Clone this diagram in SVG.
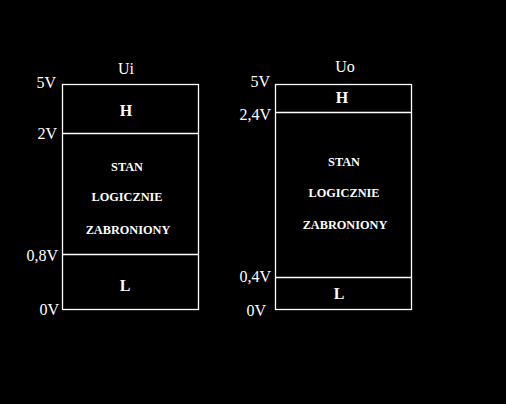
<svg xmlns="http://www.w3.org/2000/svg" width="506" height="404" viewBox="0 0 506 404">
<style>
.bg{fill:#000}
.box{fill:none;stroke:#fff;stroke-width:1.3}
.lbl{font-family:"Liberation Serif",serif;font-size:16px;fill:#fff}
.lv{font-family:"Liberation Serif",serif;font-size:16px;fill:#fff;font-weight:bold;text-anchor:middle}
.st{font-family:"Liberation Serif",serif;font-size:12.3px;fill:#fff;font-weight:bold;text-anchor:middle}
.r{text-anchor:end}
.m{text-anchor:middle}
</style>
<rect class="bg" x="0" y="0" width="506" height="404"/>
<g id="ui">
<rect class="box" x="62.5" y="84.5" width="136" height="225"/>
<line class="box" x1="62.5" y1="133.5" x2="198.5" y2="133.5"/>
<line class="box" x1="62.5" y1="254.5" x2="198.5" y2="254.5"/>
<text class="lbl m" x="126" y="74">Ui</text>
<text class="lbl r" x="56" y="88">5V</text>
<text class="lbl r" x="57" y="139">2V</text>
<text class="lbl r" x="58" y="261">0,8V</text>
<text class="lbl r" x="59" y="315">0V</text>
<text class="lv" x="126" y="116">H</text>
<text class="st" x="127" y="171">STAN</text>
<text class="st" x="127" y="201">LOGICZNIE</text>
<text class="st" x="128" y="234">ZABRONIONY</text>
<text class="lv" x="125" y="291">L</text>
</g>
<g id="uo">
<rect class="box" x="275.5" y="84.5" width="136" height="225"/>
<line class="box" x1="275.5" y1="112.5" x2="411.5" y2="112.5"/>
<line class="box" x1="275.5" y1="277.5" x2="411.5" y2="277.5"/>
<text class="lbl m" x="345" y="72">Uo</text>
<text class="lbl r" x="270" y="87">5V</text>
<text class="lbl r" x="271" y="120">2,4V</text>
<text class="lbl r" x="271" y="282">0,4V</text>
<text class="lbl r" x="266" y="316">0V</text>
<text class="lv" x="342" y="103">H</text>
<text class="st" x="344" y="166">STAN</text>
<text class="st" x="344" y="197">LOGICZNIE</text>
<text class="st" x="345" y="229">ZABRONIONY</text>
<text class="lv" x="339" y="299">L</text>
</g>
</svg>
